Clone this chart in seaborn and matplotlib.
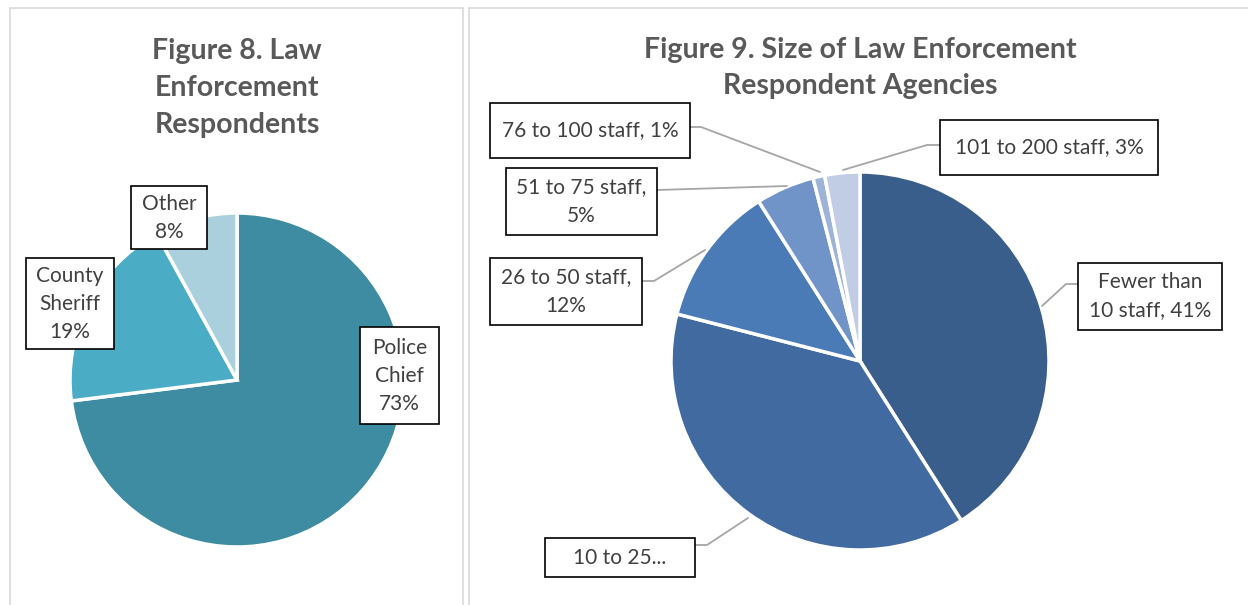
import matplotlib
matplotlib.use("Agg")
import matplotlib.pyplot as plt
import seaborn as sns
from matplotlib.patches import Rectangle

# ---- data ----
resp_labels = ["Police\nChief", "County\nSheriff", "Other"]
resp_values = [73, 19, 8]
resp_colors = ["#3d8ca1", "#4bacc6", "#a9d0dc"]

size_labels = ["Fewer than\n10 staff", "10 to 25 staff", "26 to 50 staff,\n",
               "51 to 75 staff,\n", "76 to 100 staff,", "101 to 200 staff,"]
size_values = [41, 38, 12, 5, 1, 3]
size_colors = ["#3a5e8c", "#416ba0", "#4a7bb7", "#7094c8", "#9fb3d9", "#c1cde4"]

W, H = 1248, 605
TXT = "#404040"
TITLE = "#595959"
LBL_FS = 15
TTL_FS = 20.5

sns.set_theme(style="white")
plt.rcParams["font.family"] = ["Lato", "DejaVu Sans"]

fig = plt.figure(figsize=(W / 100, H / 100), dpi=100)
ax = fig.add_axes([0, 0, 1, 1])


def Y(y):
    return H - y


# panel borders
ax.add_patch(Rectangle((10, Y(640)), 453, 632, fill=False, ec="#d9d9d9", lw=1.2))
ax.add_patch(Rectangle((469, Y(640)), 800, 632, fill=False, ec="#d9d9d9", lw=1.2))

# ---- Figure 8 ----
ax.pie(resp_values, colors=resp_colors, startangle=90, counterclock=False,
       center=(237, Y(380)), radius=167,
       wedgeprops=dict(edgecolor="white", linewidth=2.5))
ax.text(237, Y(88), "Figure 8. Law\nEnforcement\nRespondents", ha="center", va="center",
        fontsize=TTL_FS, fontweight="bold", color=TITLE, linespacing=1.52)

resp_text = [f"{l}\n{v}%" for l, v in zip(resp_labels, resp_values)]
# box: (left, top, right, bottom) in pixels
resp_boxes = [(360, 327, 439, 424), (26, 258, 114, 349), (131, 186, 207, 249)]
for t, (x0, y0, x1, y1) in zip(resp_text, resp_boxes):
    ax.add_patch(Rectangle((x0, Y(y1)), x1 - x0, y1 - y0, fc="white", ec="black", lw=1.2, zorder=5))
    ax.text((x0 + x1) / 2, Y((y0 + y1) / 2), t, ha="center", va="center",
            fontsize=LBL_FS, color=TXT, linespacing=1.5, zorder=6)

# ---- Figure 9 ----
ax.pie(size_values, colors=size_colors, startangle=90, counterclock=False,
       center=(860, Y(361)), radius=189,
       wedgeprops=dict(edgecolor="white", linewidth=2.5))
ax.text(860, Y(68), "Figure 9. Size of Law Enforcement\nRespondent Agencies", ha="center",
        va="center", fontsize=TTL_FS, fontweight="bold", color=TITLE, linespacing=1.52)

size_text = [f"{size_labels[0]}, {size_values[0]}%", "10 to 25...",
             f"{size_labels[2]}{size_values[2]}%", f"{size_labels[3]}{size_values[3]}%",
             f"{size_labels[4]} {size_values[4]}%", f"{size_labels[5]} {size_values[5]}%"]
size_boxes = [(1078, 263, 1222, 330), (545, 538, 695, 577), (490, 258, 642, 325),
              (506, 168, 657, 235), (490, 103, 690, 158), (940, 120, 1158, 175)]
# leader lines: box anchor -> elbow -> wedge
leaders = [[(1078, 284), (1066, 284), (1042, 306)],
           [(695, 545), (707, 545), (748, 518)],
           [(642, 281), (654, 281), (705, 250)],
           [(657, 190), (787, 186)],
           [(690, 127), (701, 127), (820, 172)],
           [(940, 145), (927, 145), (843, 170)]]
for pts in leaders:
    ax.plot([p[0] for p in pts], [Y(p[1]) for p in pts], color="#a6a6a6", lw=1.3, zorder=4)
for t, (x0, y0, x1, y1) in zip(size_text, size_boxes):
    ax.add_patch(Rectangle((x0, Y(y1)), x1 - x0, y1 - y0, fc="white", ec="black", lw=1.2, zorder=5))
    ax.text((x0 + x1) / 2, Y((y0 + y1) / 2), t, ha="center", va="center",
            fontsize=LBL_FS, color=TXT, linespacing=1.5, zorder=6)

# pie() resets the limits, so fix them last
ax.set_xlim(0, W)
ax.set_ylim(0, H)
ax.set_aspect("auto")
ax.axis("off")

fig.savefig("out.png", dpi=100)
